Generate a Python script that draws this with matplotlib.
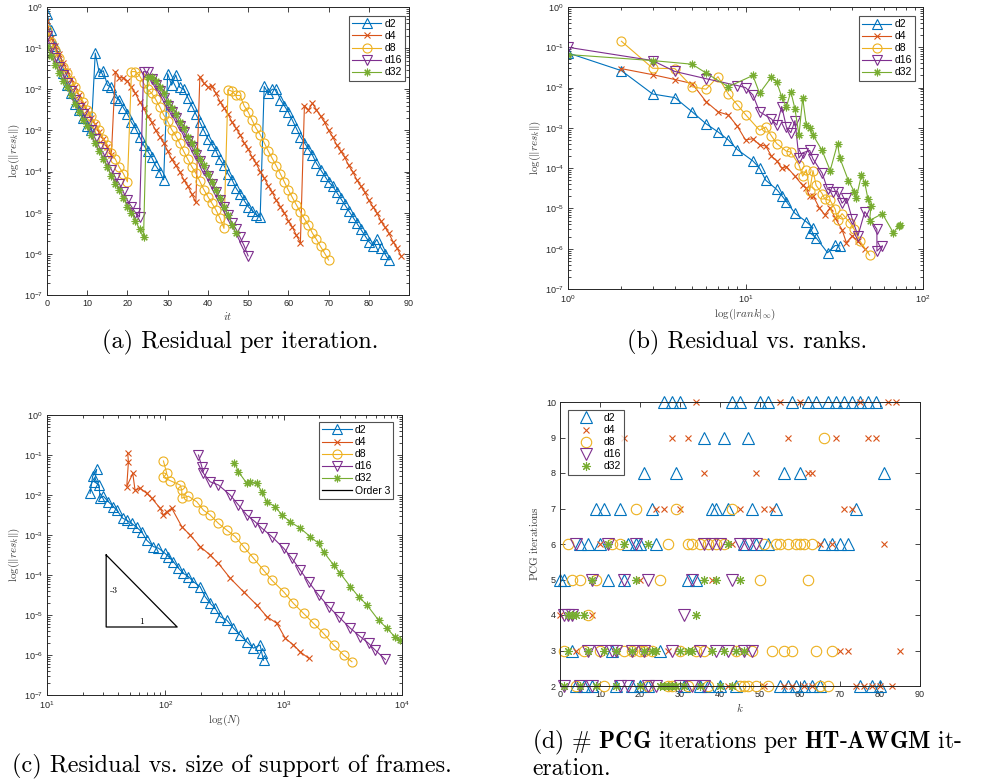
import numpy as np
import matplotlib
matplotlib.use('Agg')
from matplotlib import pyplot as plt
from matplotlib.ticker import LogLocator, NullFormatter, MultipleLocator

plt.rcParams['font.family'] = ['Liberation Sans', 'DejaVu Sans']
plt.rcParams['mathtext.fontset'] = 'custom'
plt.rcParams['mathtext.rm'] = 'Liberation Sans'
plt.rcParams['mathtext.it'] = 'Liberation Sans:italic'
plt.rcParams['mathtext.bf'] = 'Liberation Sans:bold'

names = ['d2', 'd4', 'd8', 'd16', 'd32']
colors = ['#0072BD', '#D95319', '#EDB120', '#7E2F8E', '#77AC30']
markers = ['^', 'x', 'o', 'v', (8, 2, 0)]
msizes = [7, 4.5, 6.5, 7, 5.5]

# (a) log10 of residual, one value per iteration starting at it = 0
a_d2 = [-0.16, -0.55, -0.95, -1.3, -1.6, -1.9, -2.1, -2.35, -2.5, -2.7, -2.9, -3.0,
        -1.12, -1.6, -1.55, -1.9, -1.95, -2.2, -2.25, -2.45, -2.6, -2.8, -2.95, -3.15, -3.35, -3.5,
        -3.65, -3.85, -4.0, -4.2,
        -1.62, -1.9, -1.65, -1.95, -2.0, -2.2, -2.4, -2.6, -2.8, -3.0, -3.2, -3.35, -3.5, -3.7,
        -3.85, -4.05, -4.2, -4.4, -4.55, -4.7, -4.85, -4.95, -5.05, -5.1,
        -1.93, -2.1, -2.0, -2.0, -2.25, -2.4, -2.55, -2.75, -2.95, -3.15, -3.3, -3.45, -3.6, -3.8,
        -3.95, -4.1, -4.25, -4.35, -4.5, -4.65, -4.8, -4.95, -5.1, -5.25, -5.4, -5.55, -5.7, -5.8,
        -5.65, -5.85, -6.0, -6.15]
a_d4 = [-0.35, -0.75, -0.95, -1.15, -1.35, -1.55, -1.75, -1.95, -2.15, -2.35, -2.5, -2.7, -2.85,
        -3.05, -3.2, -3.4, -3.6,
        -1.57, -1.72, -1.72, -1.8, -1.95, -2.1, -2.3, -2.45, -2.65, -2.8, -3.0, -3.15, -3.3, -3.5,
        -3.7, -3.85, -4.0, -4.2, -4.35, -4.55, -4.75,
        -1.7, -1.85, -1.95, -1.93, -2.1, -2.3, -2.45, -2.6, -2.8, -2.95, -3.1, -3.3, -3.45, -3.65,
        -3.8, -4.0, -4.15, -4.35, -4.5, -4.7, -4.85, -5.0, -5.2, -5.35, -5.55, -5.73,
        -2.4, -2.5, -2.34, -2.5, -2.65, -2.8, -3.0, -3.15, -3.35, -3.5, -3.65, -3.85, -4.0, -4.2,
        -4.35, -4.5, -4.7, -4.85, -5.0, -5.2, -5.35, -5.5, -5.7, -5.85, -6.05]
a_d8 = [-0.55, -0.85, -1.05, -1.25, -1.45, -1.6, -1.8, -1.95, -2.15, -2.3, -2.5, -2.65, -2.85,
        -3.0, -3.2, -3.35, -3.55, -3.7, -3.9, -4.05, -4.25,
        -1.57, -1.57, -1.67, -1.85, -2.0, -2.09, -2.24, -2.42, -2.62, -2.78, -2.98, -3.13, -3.31,
        -3.51, -3.7, -3.88, -4.04, -4.24, -4.44, -4.61, -4.77, -4.93, -5.13, -5.38,
        -2.01, -2.05, -2.15, -2.15, -2.4, -2.55, -2.75, -2.95, -3.1, -3.3, -3.5, -3.68, -3.86,
        -4.05, -4.25, -4.45, -4.63, -4.81, -4.98, -5.15, -5.3, -5.5, -5.65, -5.82, -5.98, -6.15]
a_d16 = [-0.71, -1.0, -1.25, -1.45, -1.65, -1.85, -2.05, -2.25, -2.45, -2.6, -2.8, -3.0, -3.2,
         -3.4, -3.55, -3.75, -3.95, -4.15, -4.3, -4.5, -4.7, -4.85, -5.0, -5.1,
         -1.57, -1.58, -1.75, -1.9, -2.05, -2.2, -2.4, -2.55, -2.7, -2.9, -3.05, -3.25, -3.4, -3.6,
         -3.75, -3.95, -4.1, -4.3, -4.5, -4.7, -4.85, -5.05, -5.25, -5.4, -5.6, -5.8, -6.05]
a_d32 = [-0.96, -1.2, -1.4, -1.6, -1.8, -1.95, -2.15, -2.35, -2.55, -2.75, -2.9, -3.1, -3.3,
         -3.5, -3.7, -3.9, -4.1, -4.3, -4.45, -4.65, -4.85, -5.0, -5.2, -5.4, -5.6,
         -1.69, -1.7, -1.8, -1.95, -2.1, -2.3, -2.45, -2.6, -2.8, -2.95, -3.15, -3.3, -3.5, -3.7,
         -3.85, -4.05, -4.25, -4.45, -4.65, -4.85, -5.05, -5.3, -5.5]

# (b) rank and log10 residual
b_d2_rank = [1, 2, 3, 4, 5, 6, 7, 8, 9, 11, 12, 13, 15, 16, 17, 19, 22, 24, 23, 25, 29, 32, 34]
b_d2_res = [-1.14, -1.58, -2.16, -2.25, -2.6, -2.9, -3.1, -3.3, -3.54, -3.82, -4.0, -4.3, -4.53,
            -4.68, -4.83, -5.12, -5.33, -5.48, -5.6, -5.73, -6.1, -5.92, -5.93]
b_d4_rank = [2, 3, 4, 5, 6, 7, 8, 9, 10, 11, 12, 13, 14, 15, 16, 17, 19, 21, 22, 23, 24, 26, 28,
             30, 32, 35, 37, 40, 43, 47]
b_d4_res = [-1.53, -1.68, -1.8, -1.9, -2.35, -2.6, -2.68, -2.96, -3.3, -3.27, -3.42, -3.45, -3.7,
            -3.82, -4.0, -3.96, -4.2, -4.43, -4.5, -4.7, -4.68, -4.98, -5.16, -4.98, -5.24, -5.53,
            -5.85, -5.68, -5.82, -6.0]
b_d8_rank = [2, 3, 4, 5, 6, 7, 8, 9, 10, 12, 13, 14, 15, 17, 18, 20, 21, 22, 23, 24, 25, 27, 28,
             30, 32, 33, 35, 39, 41, 44, 50]
b_d8_res = [-0.85, -1.52, -1.53, -1.98, -2.04, -1.73, -2.16, -2.43, -2.67, -3.06, -2.98, -3.2,
            -3.39, -3.58, -3.6, -3.92, -4.2, -4.04, -4.56, -4.06, -4.43, -4.63, -4.77, -4.8, -5.02,
            -5.28, -5.13, -5.37, -5.52, -5.8, -6.16]
b_d16_rank = [1, 3, 4, 6, 9, 10, 11, 12, 14, 15, 16, 17, 18, 19, 20, 21, 23, 24, 27, 29, 31, 33,
              35, 37, 40, 43, 47, 55, 55, 59]
b_d16_res = [-1.0, -1.33, -1.6, -1.78, -1.95, -2.0, -2.18, -2.6, -2.78, -2.93, -2.47, -2.98, -3.12,
             -2.82, -3.75, -3.62, -3.56, -3.77, -4.12, -4.52, -4.58, -4.58, -4.87, -4.75, -5.27,
             -5.68, -5.08, -5.52, -6.06, -5.93]
b_d32_rank = [1, 3, 5, 6, 8, 11, 12, 14, 15, 16, 17, 18, 19, 20, 21, 22, 23, 24, 27, 30, 33, 34,
              38, 41, 42, 45, 47, 49, 51, 50, 59, 68, 73, 74]
b_d32_res = [-1.18, -1.33, -1.42, -1.64, -1.98, -1.7, -2.14, -1.74, -1.87, -2.23, -2.48, -2.1,
             -2.53, -3.18, -2.26, -2.93, -3.0, -3.18, -3.56, -4.06, -3.39, -3.75, -4.31, -4.58,
             -4.75, -4.17, -4.37, -4.77, -4.93, -5.3, -5.13, -5.6, -5.43, -5.4]

# (c) log10 N and log10 residual
c_d2_logN = [1.364, 1.386, 1.42, 1.40, 1.44, 1.448, 1.476, 1.519, 1.561, 1.589, 1.64, 1.674, 1.716,
             1.758, 1.8, 1.843, 1.899, 1.942, 1.998, 2.026, 2.069, 2.111, 2.153, 2.195, 2.238,
             2.294, 2.336, 2.379, 2.421, 2.463, 2.52, 2.576, 2.632, 2.689, 2.745, 2.801, 2.816, 2.83]
c_d2_res = [-1.96, -1.53, -1.36, -1.67, -1.75, -2.08, -2.03, -2.17, -2.29, -2.38, -2.58, -2.63,
            -2.71, -2.81, -2.92, -3.13, -3.29, -3.33, -3.46, -3.54, -3.67, -3.83, -3.96, -4.04,
            -4.17, -4.29, -4.54, -4.71, -4.83, -5.04, -5.13, -5.33, -5.5, -5.67, -5.83, -5.75,
            -5.96, -6.13]
c_d4_logN = [1.682, 1.688, 1.674, 1.725, 1.744, 1.787, 1.843, 1.885, 1.956, 1.984, 2.012, 2.054,
             2.139, 2.209, 2.294, 2.379, 2.449, 2.548, 2.661, 2.773, 2.858, 2.943, 3.013, 3.083,
             3.14, 3.21]
c_d4_res = [-0.96, -1.17, -1.79, -1.46, -1.88, -1.83, -1.96, -2.08, -2.33, -2.5, -2.42, -2.33,
            -2.79, -3.0, -3.29, -3.5, -3.71, -4.08, -4.42, -4.75, -5.04, -5.21, -5.58, -5.75,
            -5.92, -6.08]
c_d8_logN = [1.984, 2.012, 1.984, 2.04, 2.125, 2.139, 2.139, 2.195, 2.266, 2.322, 2.379, 2.449,
             2.52, 2.59, 2.661, 2.745, 2.83, 2.9, 3.0, 3.083, 3.168, 3.253, 3.337, 3.422, 3.506,
             3.577]
c_d8_res = [-1.15, -1.46, -1.56, -1.64, -1.75, -1.88, -2.08, -2.03, -2.17, -2.38, -2.5, -2.71,
            -2.88, -3.04, -3.29, -3.58, -3.88, -4.13, -4.42, -4.71, -4.96, -5.21, -5.46, -5.75,
            -6.0, -6.17]
c_d16_logN = [2.28, 2.308, 2.322, 2.379, 2.449, 2.548, 2.618, 2.689, 2.759, 2.816, 2.9, 3.0,
              3.069, 3.14, 3.21, 3.295, 3.379, 3.464, 3.563, 3.647, 3.718, 3.774, 3.859]
c_d16_res = [-1.0, -1.29, -1.46, -1.67, -1.75, -2.0, -2.25, -2.5, -2.67, -2.83, -3.04, -3.33,
             -3.58, -3.88, -4.17, -4.5, -4.79, -5.04, -5.33, -5.54, -5.71, -5.88, -6.11]
c_d32_logN = [2.584, 2.618, 2.689, 2.717, 2.773, 2.816, 2.858, 2.928, 2.985, 3.055, 3.14, 3.224,
              3.295, 3.337, 3.422, 3.478, 3.563, 3.633, 3.704, 3.802, 3.873, 3.943, 3.986]
c_d32_res = [-1.19, -1.42, -1.71, -1.67, -1.71, -1.92, -2.17, -2.29, -2.5, -2.67, -2.83, -3.04,
             -3.21, -3.42, -3.75, -3.96, -4.29, -4.54, -4.75, -5.13, -5.33, -5.56, -5.63]
order3_logN = [1.5, 1.5, 2.1, 1.5]
order3_res = [-3.5, -5.3, -5.3, -3.5]

# (d) iteration k for each PCG count, per series
d_levels = [10, 9, 8, 7, 6, 5, 4, 3, 2]
d_d2 = {10: [26, 28, 30, 43, 45, 50, 52, 58, 62, 64, 67, 69, 71, 73, 75, 77, 79],
        9: [36, 41, 47], 8: [21, 29, 56, 60, 81],
        7: [9, 11, 15, 23, 38, 39, 42, 48, 54, 74],
        6: [5, 7, 10, 17, 19, 20, 24, 46, 49, 52, 66, 68, 70, 72],
        5: [0, 1, 12, 16, 32, 34], 4: [], 3: [3, 13, 25],
        2: [4, 6, 8, 14, 18, 20, 22, 31, 35, 37, 40, 44, 55, 57, 59, 61, 63, 65, 75, 78, 80]}
d_d4 = {10: [34, 55, 60, 75, 82, 84], 9: [16, 28, 32, 57, 69, 77, 79], 8: [36, 49, 62, 63],
        7: [24, 26, 30, 45, 51, 53, 71, 73], 6: [10, 43, 65, 68, 81], 5: [20, 38], 4: [0, 8],
        3: [4, 27, 70, 72, 85], 2: [42, 51, 56, 58, 61, 63, 74, 76, 78, 80, 83]}
d_d8 = {10: [], 9: [66], 8: [], 7: [19, 29, 43],
        6: [2, 13, 15, 27, 32, 33, 35, 37, 39, 41, 51, 54, 55, 57, 59, 60, 61, 63],
        5: [3, 5, 9, 25, 50, 62], 4: [7],
        3: [1, 6, 10, 16, 18, 20, 21, 23, 30, 34, 36, 44, 48, 53, 56, 58, 64, 68],
        2: [4, 11, 22, 27, 28, 32, 37, 45, 46, 47, 49, 52, 65, 67]}
d_d16 = {10: [], 9: [], 8: [], 7: [], 6: [4, 12, 19, 36, 38, 40, 45, 47, 49],
         5: [8, 16, 22, 33, 43], 4: [1, 2, 3, 31],
         3: [7, 10, 13, 14, 18, 21, 28, 35, 39, 42, 46, 48],
         2: [1, 5, 8, 15, 17, 22, 24, 30, 33, 36]}
d_d32 = {10: [], 9: [], 8: [], 7: [], 6: [12, 16, 22, 42], 5: [8, 19, 36, 39, 45],
         4: [2, 3, 4, 6, 34],
         3: [2, 7, 11, 14, 18, 21, 23, 24, 30, 32, 33, 38, 41, 44, 46],
         2: [1, 5, 9, 14, 20, 25, 26, 27, 28, 29, 31, 35, 40, 43]}

ink = '#262626'


def style(ax, logx=False, logy=True):
    ax.tick_params(which='both', direction='in', top=True, right=True, colors=ink,
                   labelsize=6.5, width=0.6, pad=3)
    ax.tick_params(which='major', length=3.5)
    ax.tick_params(which='minor', length=2)
    for s in ax.spines.values():
        s.set_color(ink)
        s.set_linewidth(0.7)
    if logy:
        ax.yaxis.set_major_locator(LogLocator(base=10, numticks=20))
        ax.yaxis.set_minor_locator(LogLocator(base=10, subs=np.arange(2, 10), numticks=100))
        ax.yaxis.set_minor_formatter(NullFormatter())
    if logx:
        ax.xaxis.set_major_locator(LogLocator(base=10, numticks=20))
        ax.xaxis.set_minor_locator(LogLocator(base=10, subs=np.arange(2, 10), numticks=100))
        ax.xaxis.set_minor_formatter(NullFormatter())


def legend(ax, loc, anchor):
    leg = ax.legend(loc=loc, bbox_to_anchor=anchor, fontsize=7.5, frameon=True, fancybox=False,
                    edgecolor=ink, handlelength=2.8, handletextpad=0.3, borderpad=0.3,
                    labelspacing=0.2, borderaxespad=0)
    leg.get_frame().set_linewidth(0.8)
    return leg


lab = dict(math_fontfamily='cm', fontsize=8, color='#404040')
resl = r'$\log(\|res_k\|)$'

fig = plt.figure(figsize=(9.93, 7.83), dpi=100)
W, H = 993.0, 783.0


def axes_px(l, t, r, b):
    return fig.add_axes([l / W, 1 - b / H, (r - l) / W, (b - t) / H])


# (a)
ax = axes_px(47, 7, 409, 295)
for vals, nm, c, m, ms in zip([a_d2, a_d4, a_d8, a_d16, a_d32], names, colors, markers, msizes):
    it = np.arange(len(vals))
    ax.semilogy(it, 10.0 ** np.array(vals), color=c, marker=m, ms=ms, mfc='none', mec=c,
                mew=0.8, lw=0.8, label=nm)
ax.set_xlim(0, 90)
ax.set_ylim(1e-7, 1)
ax.xaxis.set_major_locator(MultipleLocator(10))
style(ax)
ax.set_xlabel(r'$it$', labelpad=1, **lab)
ax.set_ylabel(resl, labelpad=1, **lab)
legend(ax, 'upper right', (0.989, 0.969))

# (b)
ax = axes_px(568, 7, 923, 289)
for r, v, nm, c, m, ms in zip([b_d2_rank, b_d4_rank, b_d8_rank, b_d16_rank, b_d32_rank],
                              [b_d2_res, b_d4_res, b_d8_res, b_d16_res, b_d32_res],
                              names, colors, markers, msizes):
    ax.loglog(r, 10.0 ** np.array(v), color=c, marker=m, ms=ms, mfc='none', mec=c,
              mew=0.8, lw=0.8, label=nm)
ax.set_xlim(1, 100)
ax.set_ylim(1e-7, 1)
style(ax, logx=True)
ax.set_xlabel(r'$\log(|rank|_\infty)$', labelpad=1, **lab)
ax.set_ylabel(resl, labelpad=1, **lab)
legend(ax, 'upper right', (0.977, 0.968))

# (c)
ax = axes_px(47, 415, 402, 695)
for n, v, nm, c, m, ms in zip([c_d2_logN, c_d4_logN, c_d8_logN, c_d16_logN, c_d32_logN],
                              [c_d2_res, c_d4_res, c_d8_res, c_d16_res, c_d32_res],
                              names, colors, markers, msizes):
    ax.loglog(10.0 ** np.array(n), 10.0 ** np.array(v), color=c, marker=m, ms=ms, mfc='none',
              mec=c, mew=0.8, lw=0.8, label=nm)
ax.loglog(10.0 ** np.array(order3_logN), 10.0 ** np.array(order3_res), color='k', lw=0.9,
          label='Order 3')
ax.text(10 ** 1.53, 10 ** -4.4, '-3', fontsize=7, family='cmr10', va='center', ha='left')
ax.text(10 ** 1.8, 10 ** -5.17, '1', fontsize=7, family='cmr10', va='center', ha='center')
ax.set_xlim(10, 1e4)
ax.set_ylim(1e-7, 1)
style(ax, logx=True)
ax.set_xlabel(r'$\log(N)$', labelpad=1, **lab)
ax.set_ylabel(resl, labelpad=1, **lab)
legend(ax, 'upper right', (0.975, 0.975))

# (d)
ax = axes_px(560, 402, 920, 686)
dmsizes = [8, 5, 7.5, 8, 6.5]
for data, nm, c, m, ms in zip([d_d2, d_d4, d_d8, d_d16, d_d32], names, colors, markers, dmsizes):
    ks, ys = [], []
    for lv in d_levels:
        ks += data[lv]
        ys += [lv] * len(data[lv])
    ax.plot(ks, ys, ls='none', color=c, marker=m, ms=ms, mfc='none', mec=c, mew=0.8,
            label=nm, clip_on=False)
ax.set_xlim(0, 90)
ax.set_ylim(2, 10)
ax.xaxis.set_major_locator(MultipleLocator(10))
ax.yaxis.set_major_locator(MultipleLocator(1))
style(ax, logy=False)
ax.set_xlabel(r'$k$', labelpad=1, **lab)
ax.set_ylabel(r'$\mathrm{PCG\ iterations}$', labelpad=4, **lab)
legend(ax, 'upper left', (0.022, 0.972))

# captions
cap = dict(fontsize=17.5, family='cmr10', va='baseline', color='black')
fig.text(240 / W, 1 - 348 / H, '(a) Residual per iteration.', ha='center', **cap)
fig.text(747 / W, 1 - 348 / H, '(b) Residual vs. ranks.', ha='center', **cap)
fig.text(12 / W, 1 - 772 / H, '(c) Residual vs. size of support of frames.', ha='left', **cap)
capd = dict(cap, fontsize=17)
fig.text(532 / W, 1 - 748 / H,
         r'(d) # $\mathbf{PCG}$ iterations per $\mathbf{HT}$-$\mathbf{AWGM}$ it-',
         ha='left', math_fontfamily='cm', **capd)
fig.text(532 / W, 1 - 775 / H, 'eration.', ha='left', **capd)

fig.savefig('out.png', dpi=100)
